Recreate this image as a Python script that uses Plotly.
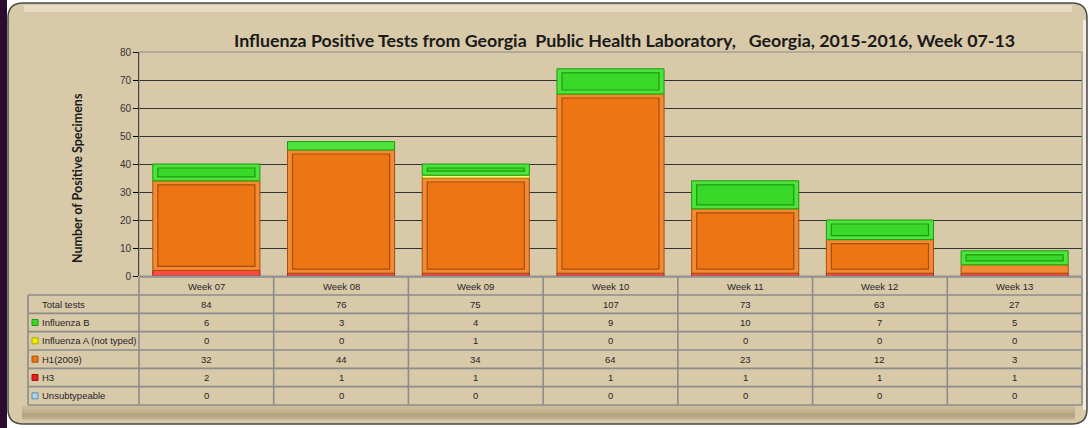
import plotly.graph_objects as go

weeks = ["Week 07", "Week 08", "Week 09", "Week 10", "Week 11", "Week 12", "Week 13"]
total_tests = [84, 76, 75, 107, 73, 63, 27]
influenza_b = [6, 3, 4, 9, 10, 7, 5]
influenza_a_nt = [0, 0, 1, 0, 0, 0, 0]
h1_2009 = [32, 44, 34, 64, 23, 12, 3]
h3 = [2, 1, 1, 1, 1, 1, 1]
unsubtypeable = [0, 0, 0, 0, 0, 0, 0]

series_names = ["Unsubtypeable", "H3", "H1(2009)", "Influenza A (not typed)", "Influenza B"]
series_values = [unsubtypeable, h3, h1_2009, influenza_a_nt, influenza_b]
# face, rim (outer band), edge
series_styles = [
    ("#a8d4ec", "#d2ebf8", "#5f8fb0"),
    ("#e8201c", "#ff4a40", "#a01010"),
    ("#ee7514", "#f38a34", "#a84e0a"),
    ("#f0f000", "#ffff80", "#a8a800"),
    ("#3ad828", "#4fe33d", "#1c9a10"),
]
table_rows = ["Total tests", "Influenza B", "Influenza A (not typed)", "H1(2009)", "H3", "Unsubtypeable"]
table_values = [total_tests, influenza_b, influenza_a_nt, h1_2009, h3, unsubtypeable]
row_icon = [None, 4, 3, 2, 1, 0]

W, H = 1091, 428
L, R, T, B = 139, 1082, 52, 276
PW, PH = R - L, B - T


def X(px):
    return (px - L) / PW


def Y(py):
    return (B - py) / PH


YMAX = 80
fig = go.Figure()

bar_w = 0.795
inset_x = 5 / (PW / 7)
inset_y = 4 * YMAX / PH

base = [0] * len(weeks)
for name, vals, (face, rim, edge) in zip(series_names, series_values, series_styles):
    fig.add_trace(go.Bar(
        x=weeks, y=vals, base=base, width=bar_w, name=name,
        marker=dict(color=rim, line=dict(color=edge, width=1)),
        showlegend=False, hoverinfo="skip"))
    inner_x, inner_y, inner_b = [], [], []
    for w, v, b0 in zip(weeks, vals, base):
        if v - 2 * inset_y > 0.4:
            inner_x.append(w)
            inner_y.append(v - 2 * inset_y)
            inner_b.append(b0 + inset_y)
    if inner_x:
        fig.add_trace(go.Bar(
            x=inner_x, y=inner_y, base=inner_b, width=bar_w - 2 * inset_x,
            marker=dict(color=face, line=dict(color=edge, width=1.2)),
            showlegend=False, hoverinfo="skip"))
    base = [b0 + v for b0, v in zip(base, vals)]

shapes = []
# left purple strip
shapes.append(dict(type="rect", xref="paper", yref="paper", x0=X(0), x1=X(7), y0=Y(H), y1=Y(0),
                   fillcolor="#2c0b31", line=dict(width=0), layer="below"))


def rounded(x0, y0, x1, y1, r):
    return (f"M {X(x0 + r)} {Y(y0)} L {X(x1 - r)} {Y(y0)} Q {X(x1)} {Y(y0)} {X(x1)} {Y(y0 + r)} "
            f"L {X(x1)} {Y(y1 - r)} Q {X(x1)} {Y(y1)} {X(x1 - r)} {Y(y1)} "
            f"L {X(x0 + r)} {Y(y1)} Q {X(x0)} {Y(y1)} {X(x0)} {Y(y1 - r)} "
            f"L {X(x0)} {Y(y0 + r)} Q {X(x0)} {Y(y0)} {X(x0 + r)} {Y(y0)} Z")


shapes.append(dict(type="path", xref="paper", yref="paper", path=rounded(8, 3, 1087, 424, 15),
                   fillcolor="#d8c9a9", line=dict(color="#4a4a4a", width=1.5), layer="below"))
# bottom bevel shading
shapes.append(dict(type="rect", xref="paper", yref="paper", x0=X(22), x1=X(1075), y0=Y(420), y1=Y(406),
                   fillcolor="#cbba98", line=dict(width=0), layer="below"))
shapes.append(dict(type="rect", xref="paper", yref="paper", x0=X(22), x1=X(1075), y0=Y(419), y1=Y(410),
                   fillcolor="#c0af8c", line=dict(width=0), layer="below"))
shapes.append(dict(type="rect", xref="paper", yref="paper", x0=X(22), x1=X(1075), y0=Y(417), y1=Y(413),
                   fillcolor="#b5a482", line=dict(width=0), layer="below"))
# top highlight
shapes.append(dict(type="rect", xref="paper", yref="paper", x0=X(24), x1=X(1072), y0=Y(12), y1=Y(5),
                   fillcolor="#e6dcc3", line=dict(width=0), layer="below"))
# right highlight
shapes.append(dict(type="rect", xref="paper", yref="paper", x0=X(1083), x1=X(1086), y0=Y(410), y1=Y(20),
                   fillcolor="#f2ece0", line=dict(width=0), layer="below"))

# plot-area border
shapes.append(dict(type="rect", xref="paper", yref="paper", x0=0, x1=1, y0=0, y1=1,
                   line=dict(color="#8c8c8c", width=1), layer="above"))

# table grid
row_top = 295
row_h = (405 - 295) / 6
grid_col = "#8c8c8c"
tw = 1.6
for i in range(7):
    yy = row_top + i * row_h
    shapes.append(dict(type="line", xref="paper", yref="paper", x0=X(28), x1=1, y0=Y(yy), y1=Y(yy),
                       line=dict(color=grid_col, width=tw)))
shapes.append(dict(type="line", xref="paper", yref="paper", x0=0, x1=1, y0=Y(277), y1=Y(277),
                   line=dict(color=grid_col, width=tw)))
shapes.append(dict(type="line", xref="paper", yref="paper", x0=X(28), x1=X(28), y0=Y(row_top), y1=Y(405),
                   line=dict(color=grid_col, width=tw)))
for k in range(len(weeks) + 1):
    xx = k / len(weeks)
    shapes.append(dict(type="line", xref="paper", yref="paper", x0=xx, x1=xx, y0=Y(277), y1=Y(405),
                       line=dict(color=grid_col, width=tw)))

annotations = []
tfont = dict(family="Liberation Sans", size=9.5, color="#262626")
for w in weeks:
    annotations.append(dict(x=w, y=Y(286), xref="x", yref="paper", text=w, showarrow=False,
                            font=tfont, xanchor="center", yanchor="middle"))
for r, (lab, vals, ic) in enumerate(zip(table_rows, table_values, row_icon)):
    cy = row_top + (r + 0.5) * row_h
    annotations.append(dict(x=X(40), y=Y(cy), xref="paper", yref="paper", text=lab, showarrow=False,
                            font=tfont, xanchor="left", yanchor="middle"))
    if ic is not None:
        face, rim, edge = series_styles[ic]
        shapes.append(dict(type="rect", xref="paper", yref="paper", x0=X(32), x1=X(38),
                           y0=Y(cy + 3), y1=Y(cy - 3), fillcolor=face, line=dict(color=edge, width=1)))
    for w, v in zip(weeks, vals):
        annotations.append(dict(x=w, y=Y(cy), xref="x", yref="paper", text=str(v), showarrow=False,
                                font=tfont, xanchor="center", yanchor="middle"))

title = "Influenza Positive Tests from Georgia\u00a0 Public Health Laboratory,\u00a0\u00a0 Georgia, 2015-2016, Week 07-13"
annotations.append(dict(x=X(624), y=Y(40), xref="paper", yref="paper", text=f"<b>{title}</b>",
                        showarrow=False, font=dict(family="Lato", size=17.8, color="#1a1a1a"),
                        xanchor="center", yanchor="middle"))
annotations.append(dict(x=X(77), y=Y(178), xref="paper", yref="paper", text="<b>Number of Positive Specimens</b>",
                        showarrow=False, textangle=-90, font=dict(family="Lato", size=12.5, color="#1a1a1a"),
                        xanchor="center", yanchor="middle"))

fig.update_layout(
    width=W, height=H,
    margin=dict(l=L, r=W - R, t=T, b=H - B),
    paper_bgcolor="#ffffff",
    plot_bgcolor="rgba(0,0,0,0)",
    barmode="overlay",
    showlegend=False,
    shapes=shapes,
    annotations=annotations,
    xaxis=dict(type="category", categoryorder="array", categoryarray=weeks, range=[-0.5, 6.5],
               showticklabels=False, showgrid=False, zeroline=False, showline=False, ticks=""),
    yaxis=dict(range=[0, YMAX], dtick=10, showgrid=True, gridcolor="#333333", gridwidth=1,
               zeroline=False, showline=True, linecolor="#000000", linewidth=1,
               ticks="outside", ticklen=5, tickcolor="#000000",
               tickfont=dict(family="Liberation Sans", size=10, color="#333333")),
)

fig.write_html("out.html", config={"displayModeBar": False},
               post_script="document.body.style.margin='0';document.body.style.overflow='hidden';")
